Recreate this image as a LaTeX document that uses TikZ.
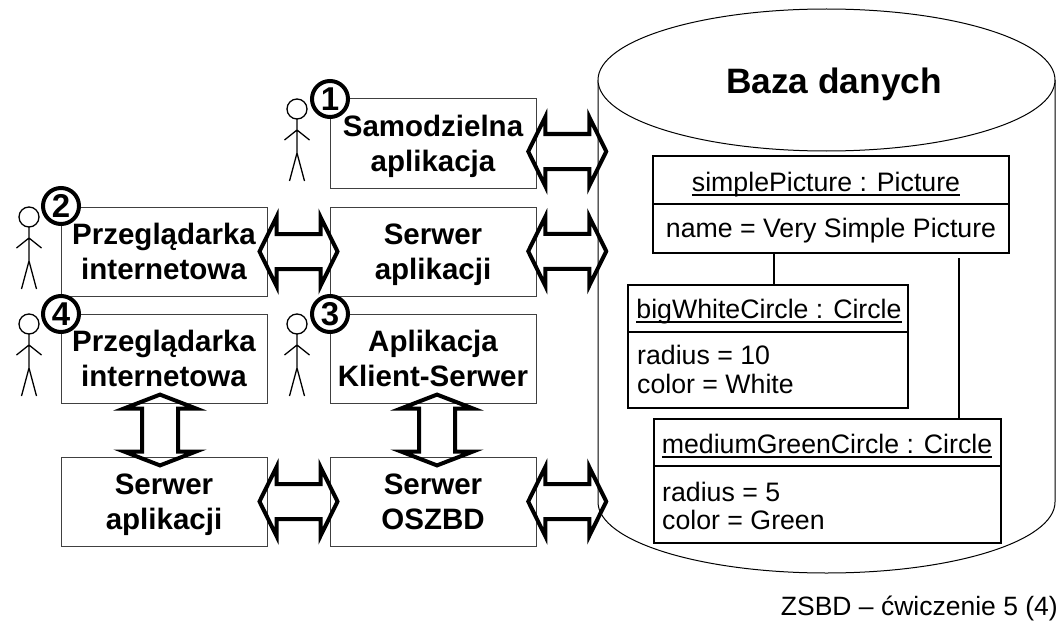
\documentclass[tikz,border=0pt]{standalone}
\usepackage{fontspec}
\usetikzlibrary{calc}
\setmainfont{Liberation Sans}
\newcommand\twolines[2]{\rule{0pt}{31.5pt}#1\\#2\rule[-10.5pt]{0pt}{10.5pt}}
\newcommand\ultext[1]{\leavevmode\setbox0\hbox{#1}\rlap{\rule[-4.6pt]{\wd0}{1.8pt}}\box0}
\tikzset{
  procbox/.style={draw=black!75,line width=1pt,fill=white,inner sep=0pt,minimum width=206pt,minimum height=89pt,align=center,font=\fontsize{29.5}{35}\bfseries\selectfont},
  umlbox/.style={draw=black,line width=1.8pt,fill=white,inner sep=0pt},
  umltext/.style={anchor=base,inner sep=0pt,font=\fontsize{26.7}{30}\selectfont},
  umlattr/.style={anchor=base west,inner sep=0pt,font=\fontsize{26.7}{30}\selectfont},
  umlline/.style={draw=black,line width=1.5pt},
  dbl/.style={draw=black,line width=4pt,miter limit=30,line join=miter},
  stick/.style={draw=black,line width=1.3pt},
  badge/.style={circle,draw=black,line width=4pt,fill=white,inner sep=0pt,minimum size=36pt,font=\fontsize{33}{33}\bfseries\selectfont},
  pics/hdbl/.style={code={
    \draw[dbl] (-39,0) -- (-22,-34.5) -- (-22,-17.5) -- (22,-17.5) -- (22,-34.5) -- (39,0) -- (22,34.5) -- (22,17.5) -- (-22,17.5) -- (-22,34.5) -- cycle;}},
  pics/vdbl/.style={code={
    \draw[dbl] (0,-35.4) -- (36,-21.5) -- (18,-21.5) -- (18,21.5) -- (36,21.5) -- (0,35.4) -- (-36,21.5) -- (-18,21.5) -- (-18,-21.5) -- (-36,-21.5) -- cycle;}},
  pics/person/.style={code={
    \draw[stick] (0,0) circle[radius=10];
    \draw[stick] (0,10) -- (0,44) (-12.5,31) -- (0,21) -- (12.5,31) (-7.5,72) -- (0,44) -- (7.5,72);}}
}
\begin{document}
\begin{tikzpicture}[x=1pt,y=-1pt]
\useasboundingbox (0,0) rectangle (1062,623);
\fill[white] (0,0) rectangle (1062,623);
% database cylinder
\draw[line width=1pt,fill=white] (598,80) -- (598,502) arc[start angle=180,end angle=360,x radius=228.5pt,y radius=71pt] -- (1055,80);
\draw[line width=1pt,fill=white] (826.5,80) ellipse[x radius=228.5pt,y radius=71pt];
\node[anchor=base,inner sep=0pt,font=\fontsize{35.3}{40}\bfseries\selectfont] (dbtitle) at (834,94) {Baza danych};
\coordinate (db1) at (598,143.5);
\coordinate (db2) at (598,251);
\coordinate (db3) at (598,501.5);
% process boxes
\node[procbox] (samo) at (433,143.5) {\twolines{Samodzielna}{aplikacja}};
\node[procbox] (serwA) at (433,251.5) {\twolines{Serwer}{aplikacji}};
\node[procbox] (prz2) at (164,251.5) {\twolines{Przeglądarka}{internetowa}};
\node[procbox] (prz4) at (164,358.5) {\twolines{Przeglądarka}{internetowa}};
\node[procbox] (klient) at (433,358.5) {\twolines{Aplikacja}{Klient-Serwer}};
\node[procbox] (serwB) at (164,501.5) {\twolines{Serwer}{aplikacji}};
\node[procbox] (oszbd) at (433,501.5) {\twolines{Serwer}{OSZBD}};
% block arrows
\pic at ($(samo.east)!.5!(db1)+(0,8)$) {hdbl};
\pic at ($(serwA.east)!.5!(db2)$) {hdbl};
\pic at ($(prz2.east)!.5!(serwA.west)$) {hdbl};
\pic at ($(serwB.east)!.5!(oszbd.west)$) {hdbl};
\pic at ($(oszbd.east)!.5!(db3)$) {hdbl};
\pic at ($(prz4.south)!.5!(serwB.north)+(-4,0)$) {vdbl};
\pic at ($(klient.south)!.5!(oszbd.north)+(4,0)$) {vdbl};
% people
\pic at (297,109) {person};
\pic at (29,217) {person};
\pic at (297,324) {person};
\pic at (29,324) {person};
% numbered badges
\node[badge] (b1) at (330,99) {1};
\node[badge] (b2) at (61,206) {2};
\node[badge] (b3) at (330,314) {3};
\node[badge] (b4) at (61,314) {4};
% UML objects
\node[umlbox,minimum width=356pt,minimum height=97pt] (simple) at (831,204.5) {};
\node[umlbox,minimum width=280pt,minimum height=123pt] (big) at (768,346.5) {};
\node[umlbox,minimum width=347pt,minimum height=124pt] (medium) at (827.5,481) {};
\coordinate (free) at (959,258);
\draw[umlline] ([xshift=6pt]big.north) -- ([xshift=6pt]big.north |- simple.south);
\draw[umlline] (free) -- (free |- medium.north);
\draw[umlline] (simple.west |- 0,204) -- (simple.east |- 0,204);
\draw[umlline] (big.west |- 0,332) -- (big.east |- 0,332);
\draw[umlline] (medium.west |- 0,466) -- (medium.east |- 0,466);
\node[umltext] (t1) at (826,191) {\ultext{simplePicture : Picture}};
\node[umltext] (a1) at (831,237) {name = Very Simple Picture};
\node[umltext] (t2) at (769,318) {\ultext{bigWhiteCircle : Circle}};
\node[umlattr] (a2) at (637,364) {radius = 10};
\node[umlattr] (a3) at (637,393) {color = White};
\node[umltext] (t3) at (827,453) {\ultext{mediumGreenCircle : Circle}};
\node[umlattr] (a4) at (662,501) {radius = 5};
\node[umlattr] (a5) at (662,529) {color = Green};
% footer
\node[anchor=base east,inner sep=0pt,font=\fontsize{26.5}{30}\selectfont] (foot) at (1058,615) {ZSBD – ćwiczenie 5 (4)};
\end{tikzpicture}
\end{document}
